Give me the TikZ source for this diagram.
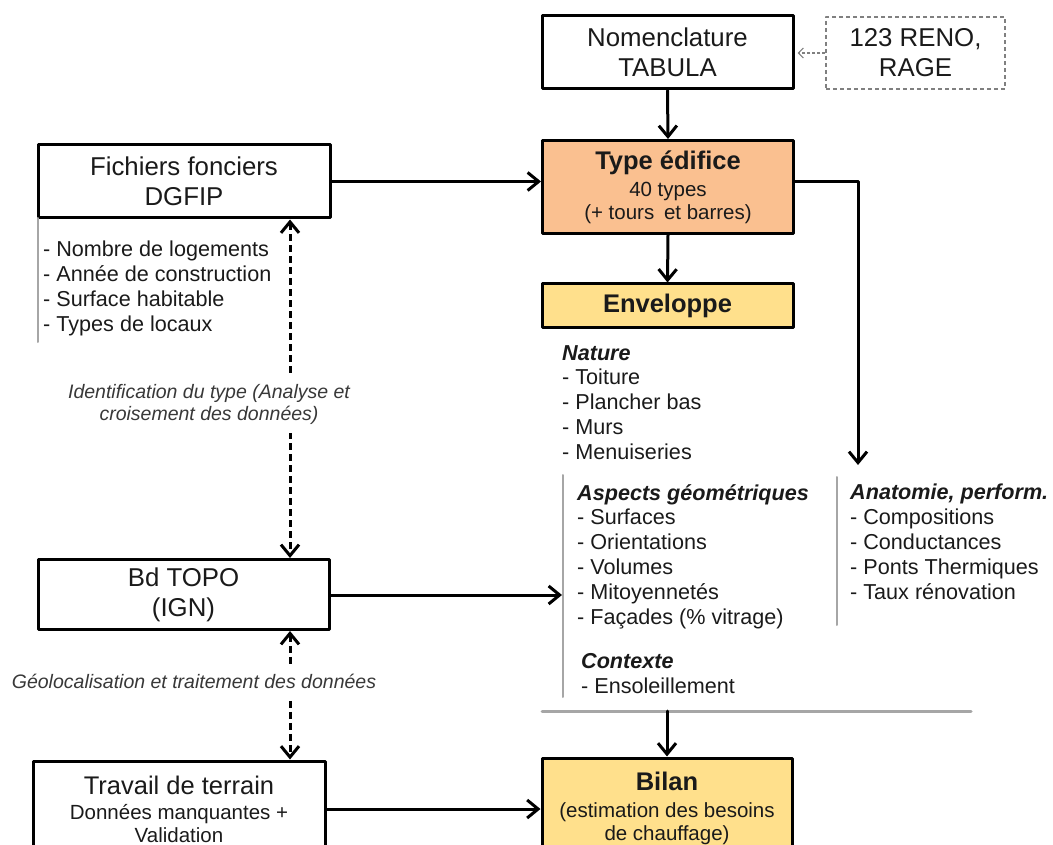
\documentclass[tikz,border=0pt]{standalone}
\usepackage{fontspec}
\setmainfont{Liberation Sans}
\usetikzlibrary{arrows.meta}

\definecolor{typefill}{HTML}{FAC090}
\definecolor{envfill}{HTML}{FFE08C}
\definecolor{rulegray}{HTML}{A6A6A6}
\definecolor{inktext}{HTML}{1A1A1A}
\definecolor{notetext}{HTML}{383838}

\newcommand{\headfont}{\fontsize{25.5}{25.5}\selectfont}

\begin{document}
\begin{tikzpicture}[x=1pt,y=-1pt,
    >={Straight Barb[length=11pt,width=18pt]},
    line cap=round,line join=round,
    box/.style={draw,line width=3pt,inner sep=0pt,align=center,
      text=inktext,minimum width=251pt},
    bigtext/.style={font=\fontsize{25.8}{30}\selectfont},
    smalltext/.style={font=\fontsize{20.5}{23}\selectfont},
    listtext/.style={inner sep=0pt,align=left,text=inktext,
      font=\fontsize{21.6}{24.8}\selectfont},
    note/.style={inner xsep=2pt,inner ysep=9pt,align=center,fill=white,
      text=notetext,font=\fontsize{19.5}{22}\selectfont\itshape},
    flow/.style={->,line width=3pt},
    link/.style={<->,line width=3pt,line cap=butt,dash pattern=on 7pt off 4pt},
    grayrule/.style={draw=rulegray,line width=2pt}]
  \useasboundingbox (0,0) rectangle (1053,845);

  % Main chain: nomenclature, building type, envelope, balance.
  \node[box,bigtext,minimum height=73pt] (nomen) at (667.5,52.5)
    {Nomenclature\\TABULA};
  \node[draw=gray,line width=1.2pt,line cap=butt,dash pattern=on 4pt off 3pt,
    inner sep=0pt,align=center,text=inktext,bigtext,
    minimum width=179pt,minimum height=72pt] (reno) at (915.5,53)
    {123 RENO,\\RAGE};
  \node[box,smalltext,fill=typefill,minimum height=93pt] (typeed) at (668,187)
    {{\headfont\bfseries Type édifice}\\[4pt]40 types\\(+ tours\hspace{4pt} et barres)};
  \node[box,fill=envfill,minimum height=44pt,font=\headfont\bfseries] (env)
    at (667.5,306) {Enveloppe};
  \node[box,smalltext,fill=envfill,minimum width=250pt,minimum height=100pt]
    (bilan) at (667,808)
    {{\headfont\bfseries Bilan}\\[4pt](estimation des besoins\\de chauffage)};

  % Data sources on the left.
  \node[box,bigtext,minimum width=292pt,minimum height=73pt] (fich)
    at (184,181.5) {Fichiers fonciers\\DGFIP};
  \node[box,bigtext,minimum width=291pt,minimum height=70pt] (bdtopo)
    at (183.5,594.5) {Bd TOPO\\(IGN)};
  \node[box,smalltext,minimum width=292pt,minimum height=96pt] (travail)
    at (179,809)
    {{\headfont Travail de terrain}\\[2pt]Données manquantes +\\Validation};

  % Lists of attributes.
  \draw[grayrule] (38,218) -- (38,342);
  \node[listtext,anchor=north west] (fichlist) at (43,241)
    {- Nombre de logements\\- Année de construction\\- Surface habitable\\- Types de locaux};
  \node[listtext,anchor=north west] (natlist) at (562,345)
    {\textbf{\textit{Nature}}\\- Toiture\\- Plancher bas\\- Murs\\- Menuiseries};
  \draw[grayrule] (563,475) -- (563,697);
  \node[listtext,anchor=north west] (asplist) at (577,484)
    {\textbf{\textit{Aspects géométriques}}\\- Surfaces\\- Orientations\\- Volumes\\- Mitoyennetés\\- Façades (\% vitrage)};
  \node[listtext,anchor=north west] (ctxlist) at (581,653)
    {\textbf{\textit{Contexte}}\\- Ensoleillement};
  \draw[grayrule] (837,477) -- (837,625);
  \node[listtext,anchor=north west] (anatlist) at (850,484)
    {\textbf{\textit{Anatomie, perform.}}\\- Compositions\\- Conductances\\- Ponts Thermiques\\- Taux rénovation};

  % Connectors.
  \coordinate (anat) at (858,465);
  \coordinate (aspin) at (562,595);
  \coordinate (sumL) at (542,711);
  \coordinate (sumR) at (971,711);
  \coordinate (dashx) at (290,0);
  \draw[->,draw=gray,line width=1.2pt,line cap=butt,dash pattern=on 3pt off 2pt,
    >={Straight Barb[length=5pt,width=10pt]},shorten >=3pt]
    (reno.west) -- (nomen.east |- reno.west);
  \draw[flow] (nomen.south) -- (typeed.north);
  \draw[flow] (fich.east) -- (fich.east -| typeed.west);
  \draw[flow] (typeed.east |- fich.east) -| (anat);
  \draw[flow] (typeed.south) -- (env.north);
  \draw[flow] (bdtopo.east |- aspin) -- (aspin);
  \draw[grayrule,line width=3pt] (sumL) -- (sumR);
  \draw[flow] (bilan.north |- sumL) -- (bilan.north);
  \draw[flow] (travail.east) -- (travail.east -| bilan.west);

  % Dashed links between the sources and their labels.
  \draw[link] (fich.south -| dashx) -- (bdtopo.north -| dashx);
  \node[note] (idlab) at (209,404)
    {Identification du type (Analyse et\\croisement des données)};
  \draw[link] (bdtopo.south -| dashx) -- (travail.north -| dashx);
  \node[note] (geolab) at (194,681)
    {Géolocalisation et traitement des données};
\end{tikzpicture}
\end{document}
